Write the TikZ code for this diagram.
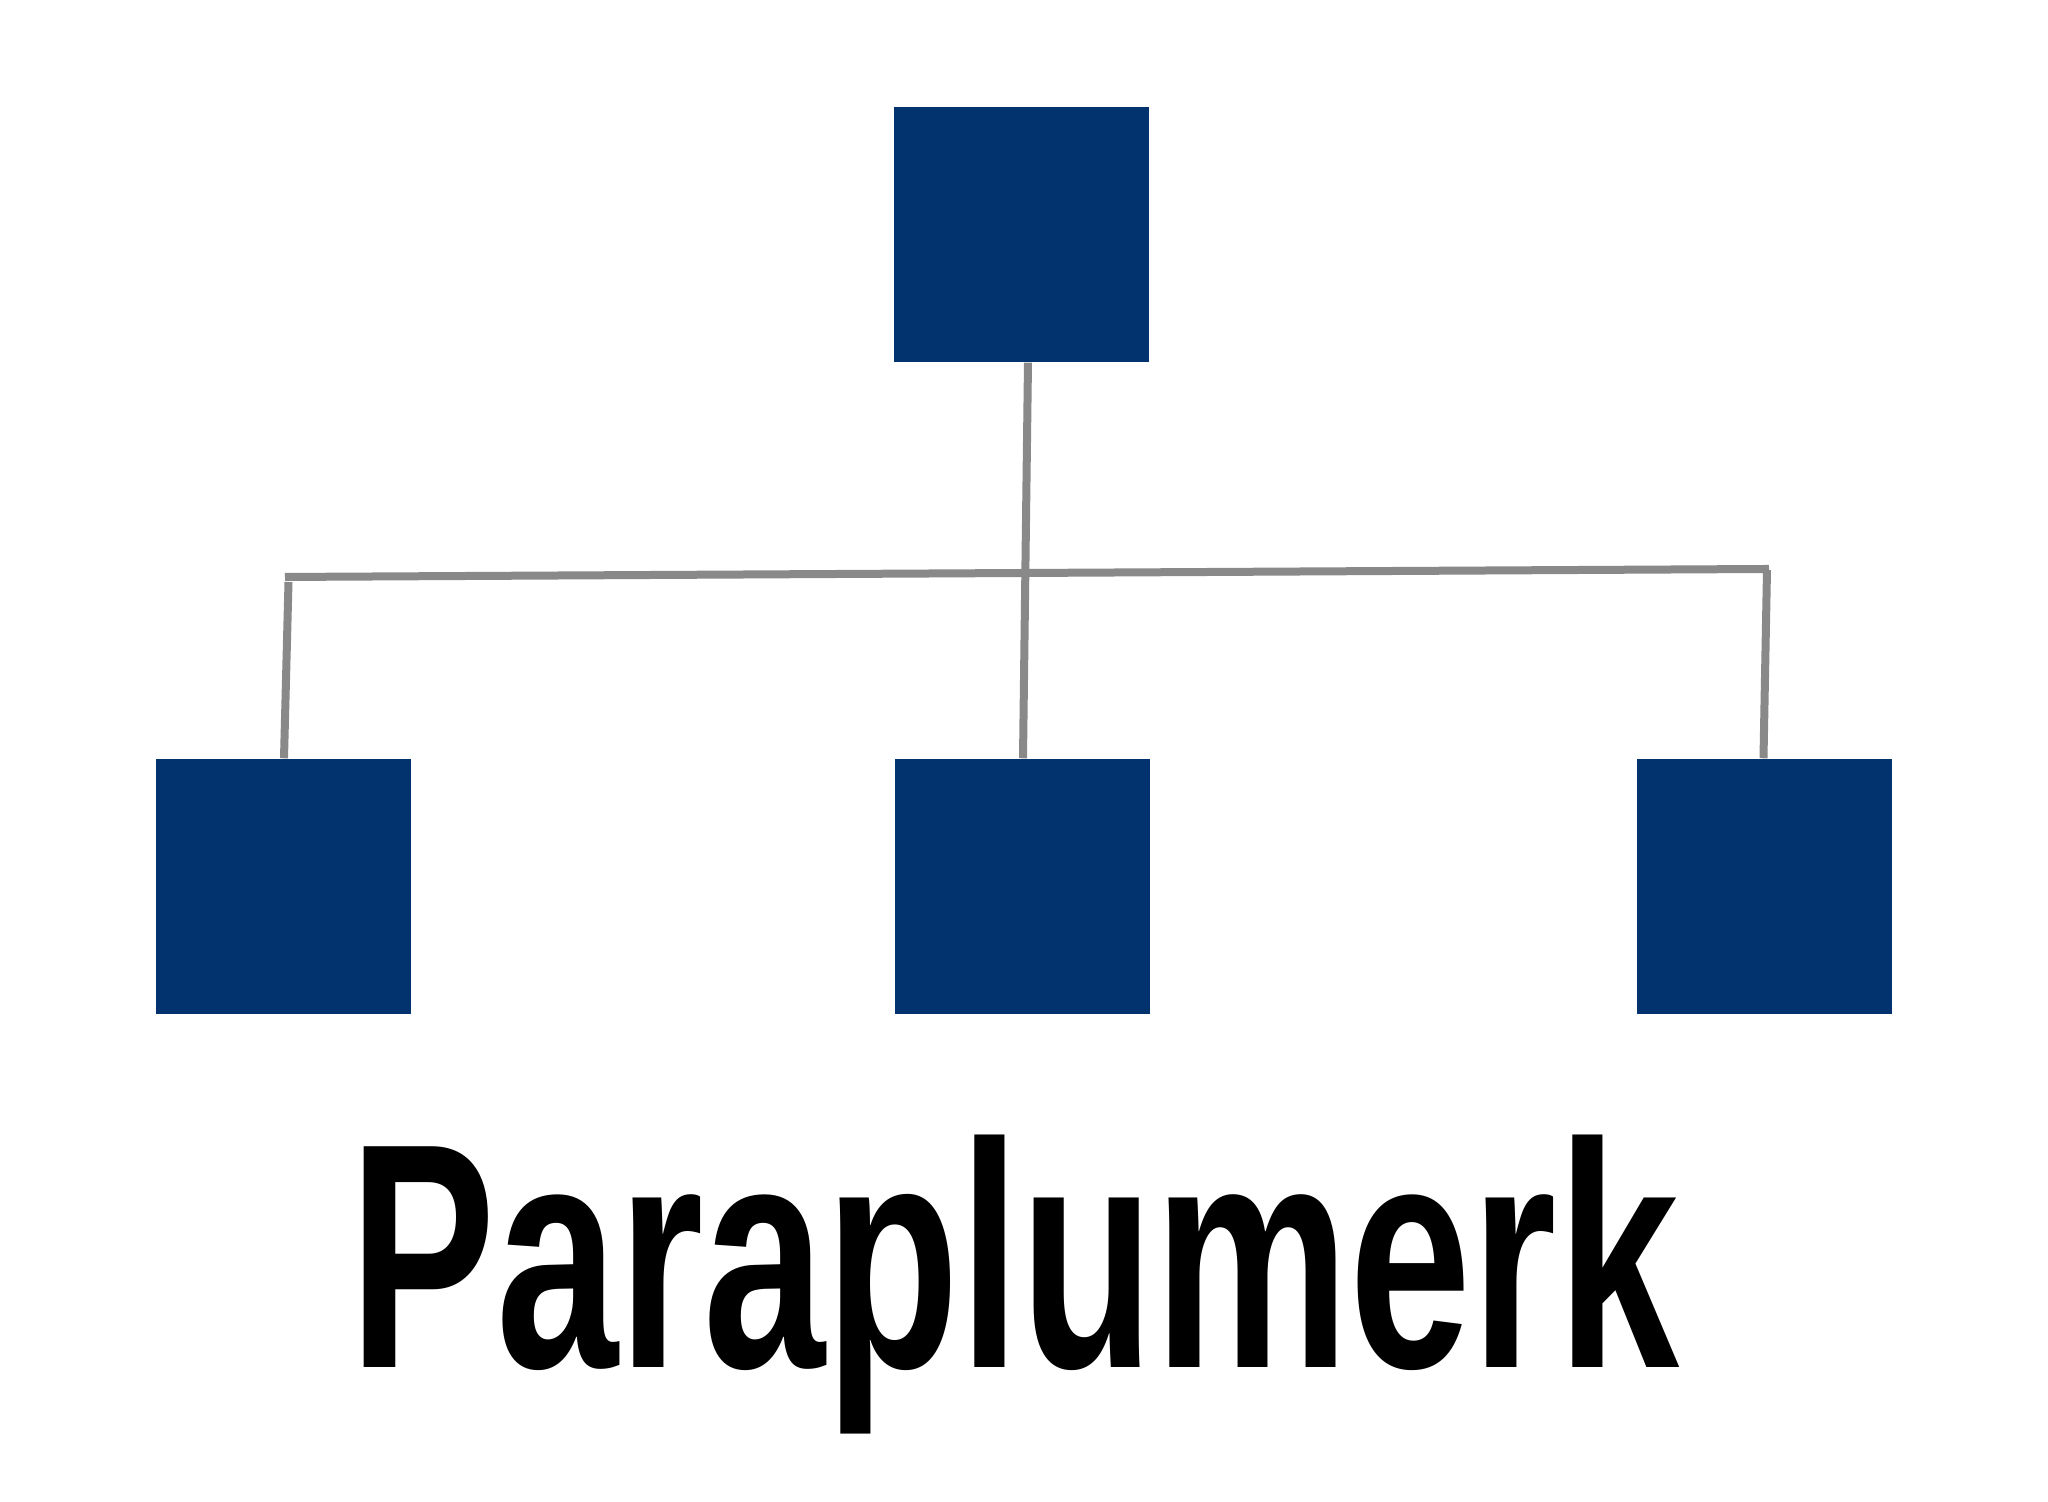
\documentclass[tikz,border=0pt]{standalone}
\usepackage{fontspec}
\setmainfont{Liberation Sans}
\usepackage{graphicx}
\definecolor{boxblue}{HTML}{02336F}
\definecolor{linegray}{HTML}{898989}
\tikzset{
  unit/.style={fill=boxblue,draw=none,minimum width=2.55cm,minimum height=2.55cm,inner sep=0pt},
  link/.style={draw=linegray,line width=0.08cm}
}
\begin{document}
\begin{tikzpicture}
%picture
\useasboundingbox (0,0) rectangle (20.48,15.02);
\node[unit] (top) at (10.215,12.675) {};
\node[unit] (left) at (2.835,6.155) {};
\node[unit] (mid) at (10.225,6.155) {};
\node[unit] (right) at (17.64,6.155) {};
\coordinate (barL) at (2.85,9.25);
\coordinate (barR) at (17.69,9.33);
\draw[link] (barL) -- (barR);
\draw[link] ([xshift=0.065cm]top.south) -- ([xshift=0.005cm]mid.north);
\draw[link] ([xshift=0.035cm,yshift=-0.05cm]barL) -- ([xshift=0.005cm]left.north);
\draw[link] ([xshift=-0.02cm,yshift=-0.01cm]barR) -- ([xshift=-0.005cm]right.north);
\node[inner sep=0pt,anchor=base,font=\fontsize{87.8}{100}\selectfont\bfseries] (label) at (10.145,1.34) {\scalebox{0.711}[1.04]{Paraplumerk}};
\end{tikzpicture}
\end{document}
